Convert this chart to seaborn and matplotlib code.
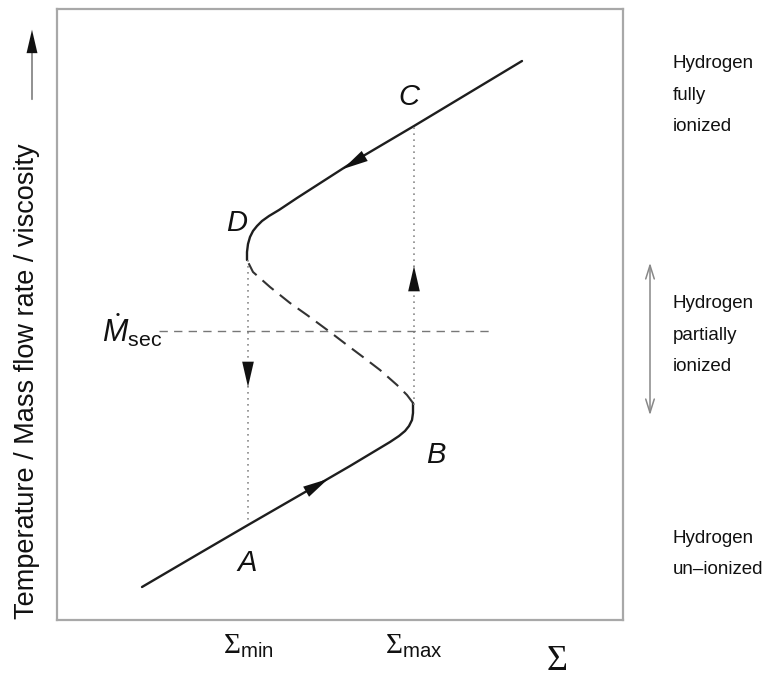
import matplotlib
matplotlib.use("Agg")
import matplotlib.pyplot as plt
from matplotlib import font_manager
import numpy as np
import pandas as pd
import seaborn as sns

# ---- S-curve of the disc instability (Σ on x, T / Ṁ / ν on y, arbitrary units) ----
lower_sigma = [85, 143, 191, 243, 293, 323, 333, 342, 348, 352, 355, 356, 356]
lower_val = [33, 67, 95, 125, 154, 172, 178, 184, 189, 194, 200, 207, 217]

middle_sigma = [356, 350, 340, 323, 306, 290, 273, 250, 233, 213, 196, 191]
middle_val = [217, 225, 235, 250, 263, 275, 288, 305, 317, 333, 348, 358]

upper_sigma = [190, 190, 191, 193, 196, 200, 205, 212, 222, 240, 296, 357, 465]
upper_val = [360, 368, 376, 383, 389, 394, 399, 404, 410, 422, 458, 494, 559]

sigma_min = 191
sigma_max = 357
mdot_sec = 289
mdot_sigma_range = [102, 436]

# limit-cycle transitions: vertical jumps (start, end)
jump_down = [360, 96]     # at Σ_min, D -> A
jump_up = [215, 494]      # at Σ_max, B -> C

point_names = ["A", "B", "C", "D"]
point_sigma = [190, 379, 352, 180]
point_val = [57, 165, 523, 397]

state_labels = ["Hydrogen\nfully\nionized",
                "Hydrogen\npartially\nionized",
                "Hydrogen\nun\u2013ionized"]

sns.set_theme(style="white")
names = {f.name for f in font_manager.fontManager.ttflist}
narrow = "Liberation Sans Narrow" if "Liberation Sans Narrow" in names else "Liberation Sans"
plt.rcParams["font.family"] = ["Liberation Sans", "DejaVu Sans"]
plt.rcParams["mathtext.fontset"] = "custom"
plt.rcParams["mathtext.rm"] = "Liberation Serif"
plt.rcParams["mathtext.sf"] = narrow
plt.rcParams["mathtext.it"] = narrow + ":italic"

W, H = 769, 679
fig = plt.figure(figsize=(W / 100, H / 100), dpi=100)
ax = fig.add_axes([57 / W, (H - 620) / H, 566 / W, 611 / H])
ax.set_xlim(0, 566)
ax.set_ylim(0, 611)

curve_color = "#1e1e1e"
lower = pd.DataFrame({"sigma": lower_sigma, "val": lower_val})
middle = pd.DataFrame({"sigma": middle_sigma, "val": middle_val})
upper = pd.DataFrame({"sigma": upper_sigma, "val": upper_val})

sns.lineplot(data=lower, x="sigma", y="val", sort=False, estimator=None,
             color=curve_color, lw=1.7, ax=ax)
sns.lineplot(data=upper, x="sigma", y="val", sort=False, estimator=None,
             color=curve_color, lw=1.7, ax=ax)
sns.lineplot(data=middle, x="sigma", y="val", sort=False, estimator=None,
             color="#333333", lw=1.5, dashes=False, ax=ax)
ax.lines[-1].set_dashes((7, 3.8))
for ln in ax.lines:
    ln.set_solid_joinstyle("round")
    ln.set_solid_capstyle("round")

# vertical jumps at Σ_min and Σ_max
ax.plot([sigma_min, sigma_min], jump_down, color="#8a8a8a", lw=1.2,
        dashes=(1, 2.6))
ax.plot([sigma_max, sigma_max], jump_up, color="#8a8a8a", lw=1.2,
        dashes=(1, 2.6))

# critical mass transfer rate
ax.plot(mdot_sigma_range, [mdot_sec, mdot_sec], color="#777777", lw=1.0,
        dashes=(6, 4.5))


def head(tip, direction, length=20, width=0.3):
    d = np.asarray(direction, float)
    d /= np.hypot(*d)
    tail = (tip[0] - d[0] * length, tip[1] - d[1] * length)
    ax.annotate("", xy=tip, xytext=tail,
                arrowprops=dict(arrowstyle=f"-|>,head_length=1.3,head_width={width}",
                                color="#111111", lw=0.01, mutation_scale=14,
                                shrinkA=0, shrinkB=0))


head((271, 141), (1, 0.58))
head((286, 451), (-1, -0.6))
head((sigma_min, 233), (0, -1))
head((sigma_max, 354), (0, 1))

for name, sx, sy in zip(point_names, point_sigma, point_val):
    ax.text(sx, sy, name, fontsize=21, fontstyle="italic", family=narrow,
            ha="center", va="center", color="#111111")

ax.text(75, 290, r"$\dot{\mathit{M}}_{\mathsf{sec}}$", fontsize=22,
        ha="center", va="center", color="#111111")

ax.set_xticks([sigma_min, sigma_max])
ax.set_xticklabels([r"$\Sigma_{\mathsf{min}}$", r"$\Sigma_{\mathsf{max}}$"],
                   fontsize=21, color="#111111")
ax.tick_params(axis="x", length=0, pad=9)
ax.set_yticks([])

ax.set_xlabel(r"$\Sigma$", fontsize=26, color="#111111")
ax.xaxis.set_label_coords((556 - 57) / 566, (620 - 660) / 611)
ax.xaxis.label.set_va("center")

ax.set_ylabel("Temperature / Mass flow rate / viscosity", fontsize=19.5,
              color="#111111")
ax.yaxis.set_label_coords((27 - 57) / 566, (620 - 381) / 611)
ax.yaxis.label.set_va("center")

for sp in ax.spines.values():
    sp.set_color("#a8a8a8")
    sp.set_linewidth(1.6)


def fx(px):
    return px / W


def fy(py):
    return 1 - py / H


# arrow along the vertical axis
fig.add_artist(matplotlib.patches.FancyArrowPatch(
    (fx(32), fy(102)), (fx(32), fy(40)), transform=fig.transFigure,
    arrowstyle="-", color="#888888", lw=1.3))
fig.add_artist(matplotlib.patches.FancyArrowPatch(
    (fx(32), fy(45)), (fx(32), fy(27)), transform=fig.transFigure,
    arrowstyle="-|>,head_length=1.2,head_width=0.28", mutation_scale=14,
    color="#111111", lw=0.01))

# extent of the partially ionized region
fig.add_artist(matplotlib.patches.FancyArrowPatch(
    (fx(650), fy(418)), (fx(650), fy(260)), transform=fig.transFigure,
    arrowstyle="<->,head_length=0.7,head_width=0.22", mutation_scale=14,
    color="#888888", lw=1.1))

for label, py in zip(state_labels, [95, 335, 554]):
    fig.text(fx(673), fy(py), label, fontsize=13.5, family=narrow,
             ha="left", va="center", linespacing=2.1, color="#111111")

fig.savefig("out.png", dpi=100, facecolor="white")
